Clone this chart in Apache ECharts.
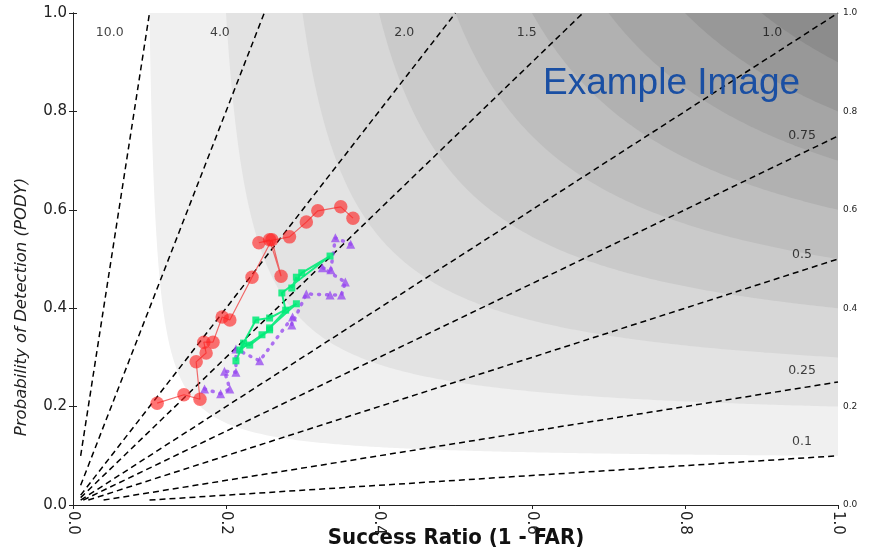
<!DOCTYPE html>
<html><head><meta charset="utf-8">
<script src="https://cdn.jsdelivr.net/npm/echarts@6/dist/echarts.min.js"></script>
<style>html,body{margin:0;padding:0;background:#fff}#c{width:869px;height:549px}</style>
</head><body><div id="c"></div>
<script>
// ---- data ----
const axisTicks = [0.0, 0.2, 0.4, 0.6, 0.8, 1.0];
const csiLevels = [0.1, 0.2, 0.3, 0.4, 0.5, 0.6, 0.7, 0.8, 0.9];
const biasValues = [0.1, 0.25, 0.5, 0.75, 1.0, 1.5, 2.0, 4.0, 10.0];
const biasLabels = ['0.1', '0.25', '0.5', '0.75', '1.0', '1.5', '2.0', '4.0', '10.0'];

const redSR  = [0.110,0.145,0.166,0.161,0.174,0.171,0.183,0.195,0.205,0.234,0.260,0.272,0.257,0.243,0.283,0.305,0.320,0.350,0.366];
const redPOD = [0.207,0.224,0.215,0.291,0.309,0.331,0.331,0.382,0.376,0.463,0.539,0.465,0.539,0.533,0.545,0.575,0.598,0.606,0.583];

const greenSR  = [0.213,0.223,0.231,0.257,0.247,0.218,0.239,0.257,0.292,0.257,0.278,0.273,0.336,0.299,0.286,0.292];
const greenPOD = [0.293,0.329,0.325,0.356,0.346,0.315,0.376,0.380,0.409,0.360,0.396,0.431,0.506,0.472,0.441,0.463];

const purpleSR  = [0.172,0.193,0.205,0.198,0.213,0.213,0.244,0.287,0.286,0.305,0.336,0.351,0.356,0.326,0.337,0.343,0.363];
const purplePOD = [0.236,0.226,0.236,0.272,0.270,0.317,0.293,0.382,0.366,0.429,0.427,0.427,0.453,0.482,0.478,0.543,0.530];

// annotation placement (positions, not data)
const biasLabelX = [0.953,0.953,0.953,0.953,0.914,0.593,0.433,0.192,0.048];
const biasLabelY = [0.128,0.272,0.508,0.750,0.960,0.960,0.960,0.960,0.960];
const bandColors = ['#f0f0f0','#e3e3e3','#d7d7d7','#cacaca','#bebebe','#b1b1b1','#a5a5a5','#989898','#8c8c8c'];

// ---- build ----
const zip = (a, b) => a.map((v, i) => [v, b[i]]);
const series = [];

csiLevels.forEach((c, k) => {
  const pts = [];
  const n = 300;
  for (let i = 0; i <= n; i++) {
    const t = i / n;
    const sr = c + (1 - c) * t * t;
    const pod = 1 / (1 / c + 1 - 1 / sr);
    pts.push([sr, Math.min(1, pod)]);
  }
  series.push({
    type: 'line', data: pts, showSymbol: false, silent: true, z: 1 + k * 0.01,
    lineStyle: { width: 0 }, areaStyle: { color: bandColors[k], opacity: 1, origin: 'end' },
    animation: false
  });
});

biasValues.forEach((b) => {
  let p0, p1;
  if (b < 1) { p0 = [0.01 / b, 0.01]; p1 = [1, b]; }
  else { p0 = [0.01, 0.01 * b]; p1 = [1 / b, 1]; }
  series.push({
    type: 'line', data: [p0, p1], showSymbol: false, silent: true, z: 3,
    lineStyle: { color: '#000', width: 1.5, type: [6, 4] }, animation: false
  });
});

series.push({
  type: 'scatter', z: 4, symbolSize: 0, silent: true, animation: false,
  data: biasLabels.map((t, i) => ({ name: t, value: [biasLabelX[i], biasLabelY[i]] })),
  label: { show: true, position: 'inside', formatter: p => p.name, color: '#111',
           fontFamily: 'DejaVu Sans', fontSize: 12.5 }
});

series.push({
  type: 'line', data: zip(redSR, redPOD), z: 6, animation: false,
  symbol: 'circle', symbolSize: 13.5,
  itemStyle: { color: 'rgba(255,30,30,0.62)' },
  lineStyle: { color: 'rgba(240,60,60,0.75)', width: 1.2 }
});
series.push({
  type: 'line', data: zip(purpleSR, purplePOD), z: 5, animation: false,
  symbol: 'triangle', symbolSize: 9,
  itemStyle: { color: 'rgba(150,70,240,0.75)' },
  lineStyle: { color: 'rgba(150,70,240,0.75)', width: 3.5, type: [1, 7], cap: 'round' }
});
series.push({
  type: 'line', data: zip(greenSR, greenPOD), z: 7, animation: false,
  symbol: 'rect', symbolSize: 7,
  itemStyle: { color: 'rgba(0,235,120,0.85)' },
  lineStyle: { color: 'rgba(0,235,120,0.9)', width: 2 }
});

const fmt = v => v.toFixed(1);
const option = {
  animation: false,
  grid: { left: 73, right: 31, top: 13, bottom: 44 },
  xAxis: [
    { type: 'value', min: 0, max: 1, interval: 0.2, position: 'bottom',
      axisLine: { show: true, lineStyle: { color: '#222', width: 1 } },
      axisTick: { show: true, length: 4, lineStyle: { color: '#222' } },
      splitLine: { show: false },
      axisLabel: { rotate: -90, margin: 6, formatter: fmt, color: '#222', fontFamily: 'DejaVu Sans', fontSize: 15 } },
    { type: 'value', min: 0, max: 1, position: 'top',
      axisLine: { show: true, lineStyle: { color: '#222', width: 1 } },
      axisTick: { show: false }, axisLabel: { show: false }, splitLine: { show: false } }
  ],
  yAxis: [
    { type: 'value', min: 0, max: 1, interval: 0.2, position: 'left',
      axisLine: { show: true, lineStyle: { color: '#222', width: 1 } },
      axisTick: { show: true, length: 4, lineStyle: { color: '#222' } },
      splitLine: { show: false },
      axisLabel: { margin: 6, formatter: fmt, color: '#222', fontFamily: 'DejaVu Sans', fontSize: 15 } },
    { type: 'value', min: 0, max: 1, interval: 0.2, position: 'right',
      axisLine: { show: true, lineStyle: { color: '#222', width: 1 } },
      axisTick: { show: true, length: 4, lineStyle: { color: '#222' } },
      splitLine: { show: false },
      axisLabel: { margin: 5, formatter: fmt, color: '#222', fontFamily: 'DejaVu Sans', fontSize: 9 } }
  ],
  series: series,
  graphic: [
    { type: 'text', x: 456, y: 538, z: 100,
      style: { text: 'Success Ratio (1 - FAR)', fill: '#111', font: 'bold 22px "Liberation Sans Narrow", "DejaVu Sans Condensed", "Arial Narrow", sans-serif',
               textAlign: 'center', textVerticalAlign: 'middle' } },
    { type: 'text', x: 22, y: 307, rotation: Math.PI / 2, z: 100,
      style: { text: 'Probability of Detection (PODY)', fill: '#222', font: 'italic 16.5px "DejaVu Sans", sans-serif',
               textAlign: 'center', textVerticalAlign: 'middle' } },
    { type: 'text', x: 543, y: 65, z: 100,
      style: { text: 'Example Image', fill: '#1a4fa3', font: '37px "Liberation Sans", Arial, sans-serif',
               textAlign: 'left', textVerticalAlign: 'alphabetic' } }
  ]
};
const chart = echarts.init(document.getElementById('c'), null, { renderer: 'canvas' });
chart.setOption(option);
</script></body></html>
